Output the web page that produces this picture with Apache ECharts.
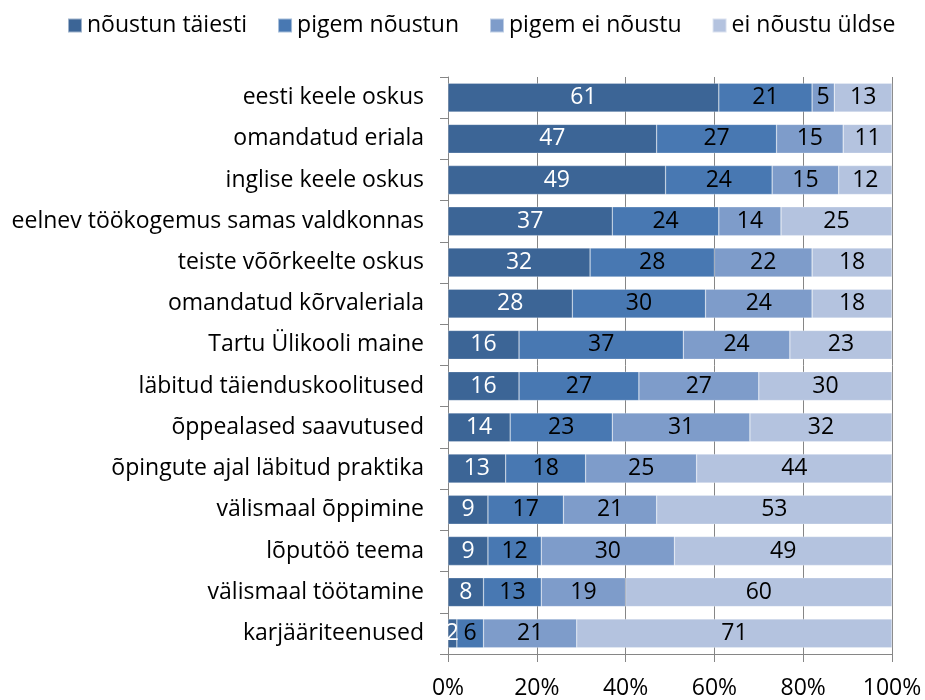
<!DOCTYPE html>
<html><head><meta charset="utf-8">
<script src="https://cdn.jsdelivr.net/npm/echarts@6/dist/echarts.min.js"></script>
<style>html,body{margin:0;padding:0;background:#fff}#c{width:925px;height:700px}</style>
</head><body><div id="c"></div>
<script>
const categories = ["eesti keele oskus","omandatud eriala","inglise keele oskus","eelnev töökogemus samas valdkonnas","teiste võõrkeelte oskus","omandatud kõrvaleriala","Tartu Ülikooli maine","läbitud täienduskoolitused","õppealased saavutused","õpingute ajal läbitud praktika","välismaal õppimine","lõputöö teema","välismaal töötamine","karjääriteenused"];
const seriesNames = ["nõustun täiesti","pigem nõustun","pigem ei nõustu","ei nõustu üldse"];
const s1 = [61,47,49,37,32,28,16,16,14,13,9,9,8,2];
const s2 = [21,27,24,24,28,30,37,27,23,18,17,12,13,6];
const s3 = [5,15,15,14,22,24,24,27,31,25,21,30,19,21];
const s4 = [13,11,12,25,18,18,23,30,32,44,53,49,60,71];
const xTicks = [0,20,40,60,80,100];
const colors = ["#3C6596","#4878B2","#7E9CCA","#B4C3DF"];
const labelColors = ["#ffffff","#000000","#000000","#000000"];
const font = "'Open Sans', sans-serif";
const chart = echarts.init(document.getElementById('c'));
const all = [s1,s2,s3,s4];
chart.setOption({
  animation:false,
  color: colors,
  legend:{top:9,left:62,itemWidth:14,itemHeight:14,itemGap:30,icon:'rect',
    textStyle:{fontFamily:font,fontSize:23,color:'#000'},data:seriesNames},
  grid:{left:448,right:33,top:77,bottom:43,containLabel:false},
  xAxis:{type:'value',min:0,max:100,interval:20,
    axisLine:{show:true,lineStyle:{color:'#868686'}},
    axisTick:{show:true,length:8,lineStyle:{color:'#868686'}},
    splitLine:{show:true,lineStyle:{color:'#868686'}},
    axisLabel:{fontFamily:font,fontSize:23,color:'#000',margin:23,formatter:v=>v+'%'}},
  yAxis:{type:'category',inverse:true,data:categories,
    axisLine:{show:true,lineStyle:{color:'#868686'}},
    axisTick:{show:true,length:8,lineStyle:{color:'#868686'}},
    axisLabel:{fontFamily:font,fontSize:23,color:'#000',margin:24}},
  series: all.map((d,i)=>({
    name:seriesNames[i],type:'bar',stack:'t',barWidth:'70%',data:d,
    itemStyle:{color:colors[i],borderColor:'rgba(255,255,255,0.5)',borderWidth:0.5},
    label:{show:true,position:'inside',fontFamily:font,fontSize:23,color:labelColors[i]}
  }))
});
</script></body></html>
